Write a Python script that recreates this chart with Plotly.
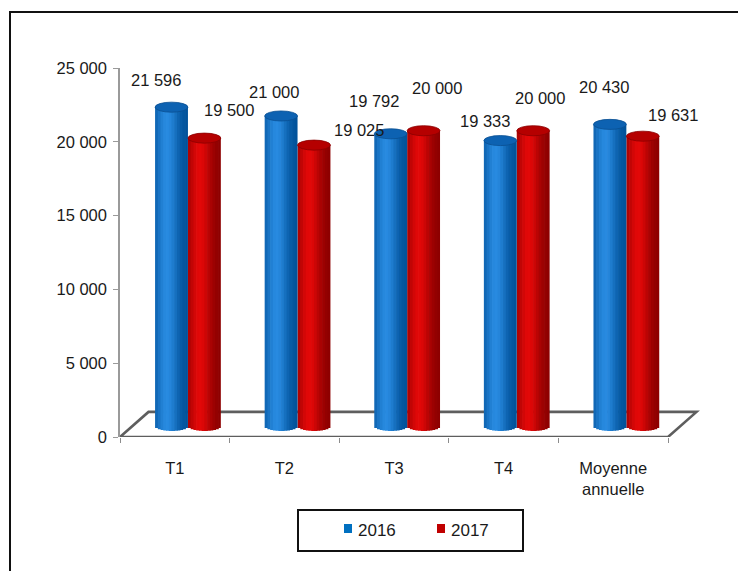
import math
import plotly.graph_objects as go

# ---------------- data ----------------
categories = ["T1", "T2", "T3", "T4", "Moyenne<br>annuelle"]
series_names = ["2016", "2017"]
values_2016 = [21596, 21000, 19792, 19333, 20430]
values_2017 = [19500, 19025, 20000, 20000, 19631]
y_tickvals = [0, 5000, 10000, 15000, 20000, 25000]
y_ticktext = ["0", "5 000", "10 000", "15 000", "20 000", "25 000"]

# ---------------- style ----------------
PAGE = 8                              # body margin of the html page
W, H = 746, 571
L, T = 120 - PAGE, 68 - PAGE
R = W - (700 - PAGE)
B = H - (437 - PAGE)
PW, PH = W - L - R, H - T - B
FONT = "Liberation Sans, Arial, sans-serif"
FS = 16.5
UNIT_PX = 109.6                       # px per category
X_RANGE = [-0.5, -0.5 + PW / UNIT_PX]
Y_RANGE = [0, 25000]
SHIFT = 750                           # depth lift of cylinders (data units)
ELL = 340                             # half height of ellipses (data units)
FLOOR_DX, FLOOR_DY = 0.26, 1700       # depth of the 3D floor
N_SLICES = 12

series_style = [
    dict(name="2016", vals=values_2016, off=-0.18, w=0.30,
         dark=(0, 80, 152), light=(40, 138, 224), top="#0d62b2", rim="#0a4f92",
         dx=[-16, -7, -17, -15, -6], dy=[27, 24, 33, 20, 37], legend="#0070C0"),
    dict(name="2017", vals=values_2017, off=0.12, w=0.30,
         dark=(138, 0, 0), light=(226, 8, 8), top="#b50000", rim="#8a0000",
         dx=[25, 45, 13, 7, 30], dy=[28, 15, 43, 33, 21], legend="#C00000"),
]


def px_x(p):
    """reference-image pixel -> paper x"""
    return (p - PAGE - L) / PW


def px_y(p):
    """reference-image pixel -> paper y"""
    return (H - B - (p - PAGE)) / PH


def fmt(v):
    return f"{v:,}".replace(",", " ")


def mix(a, b, f):
    return "rgb(%d,%d,%d)" % tuple(round(a[k] + (b[k] - a[k]) * f) for k in range(3))


fig = go.Figure()
shapes = []

# floor (3D base)
shapes.append(dict(
    type="path", xref="x", yref="y", layer="below",
    path=(f"M {-0.5},0 L {len(categories) - 0.5},0 "
          f"L {len(categories) - 0.5 + FLOOR_DX},{FLOOR_DY} "
          f"L {-0.5 + FLOOR_DX},{FLOOR_DY} Z"),
    fillcolor="white", line=dict(color="#5e5e5e", width=2.6)))

xs = list(range(len(categories)))
# draw 2017 first so 2016 sits in front
for s in reversed(series_style):
    step = s["w"] / N_SLICES
    for i in range(N_SLICES):
        tc = (i + 0.5) / N_SLICES
        f = math.exp(-((tc - 0.36) / 0.34) ** 2)
        drop = ELL * math.sqrt(max(0.0, 1 - (2 * tc - 1) ** 2))
        base = SHIFT - drop
        width = step * (1.25 if i < N_SLICES - 1 else 1.0)
        fig.add_trace(go.Bar(
            x=xs, y=[v + drop for v in s["vals"]], base=[base] * len(xs),
            offset=s["off"] + i * step, width=width,
            marker=dict(color=mix(s["dark"], s["light"], f), line=dict(width=0)),
            showlegend=False, hoverinfo="skip", cliponaxis=False, name=s["name"]))
    for j, v in enumerate(s["vals"]):
        shapes.append(dict(
            type="circle", xref="x", yref="y", layer="above",
            x0=j + s["off"], x1=j + s["off"] + s["w"],
            y0=v + SHIFT - ELL, y1=v + SHIFT + ELL,
            fillcolor=s["top"], line=dict(color=s["rim"], width=0.8)))

annotations = []
for s in series_style:
    for j, v in enumerate(s["vals"]):
        annotations.append(dict(
            x=j + s["off"] + s["w"] / 2, y=v + SHIFT, xref="x", yref="y",
            text=fmt(v), showarrow=False, xshift=s["dx"][j], yshift=s["dy"][j],
            font=dict(family=FONT, size=FS, color="#1a1a1a")))

# outer frame
shapes.append(dict(type="rect", xref="paper", yref="paper",
                   x0=px_x(10), x1=px_x(790), y0=px_y(600), y1=px_y(12),
                   line=dict(color="#111111", width=2), fillcolor="rgba(0,0,0,0)"))

# legend (box, keys, texts)
shapes.append(dict(type="rect", xref="paper", yref="paper",
                   x0=px_x(298), x1=px_x(523), y0=px_y(551), y1=px_y(510),
                   line=dict(color="#111111", width=2), fillcolor="white"))
legend_x = [344, 437]
for k, s in enumerate(series_style):
    shapes.append(dict(type="rect", xref="paper", yref="paper",
                       x0=px_x(legend_x[k]), x1=px_x(legend_x[k] + 8),
                       y0=px_y(533), y1=px_y(524),
                       fillcolor=s["legend"], line=dict(width=0)))
    annotations.append(dict(
        x=px_x(legend_x[k] + 12), y=px_y(530), xref="paper", yref="paper",
        xanchor="left", yanchor="middle", text=series_names[k], showarrow=False,
        font=dict(family=FONT, size=17, color="#1a1a1a")))

fig.update_layout(
    width=W, height=H, margin=dict(l=L, r=R, t=T, b=B, autoexpand=False),
    paper_bgcolor="white", plot_bgcolor="white",
    barmode="overlay", showlegend=False,
    font=dict(family=FONT, size=FS, color="#1a1a1a"),
    shapes=shapes, annotations=annotations,
    xaxis=dict(range=X_RANGE, tickvals=xs, ticktext=categories, ticks="",
               showline=False, showgrid=False, zeroline=False,
               ticklabelstandoff=19,
               tickfont=dict(family=FONT, size=FS, color="#1a1a1a"),
               minor=dict(tickvals=[i - 0.5 for i in range(len(categories) + 1)],
                          ticks="outside", ticklen=5, tickcolor="#8c8c8c",
                          tickwidth=1, showgrid=False)),
    yaxis=dict(range=Y_RANGE, tickvals=y_tickvals, ticktext=y_ticktext,
               ticks="outside", ticklen=5, tickcolor="#9a9a9a",
               showline=True, linecolor="#9a9a9a", linewidth=1.5,
               showgrid=False, zeroline=False, ticklabelstandoff=3,
               tickfont=dict(family=FONT, size=FS, color="#1a1a1a")),
)

fig.write_html("out.html")
